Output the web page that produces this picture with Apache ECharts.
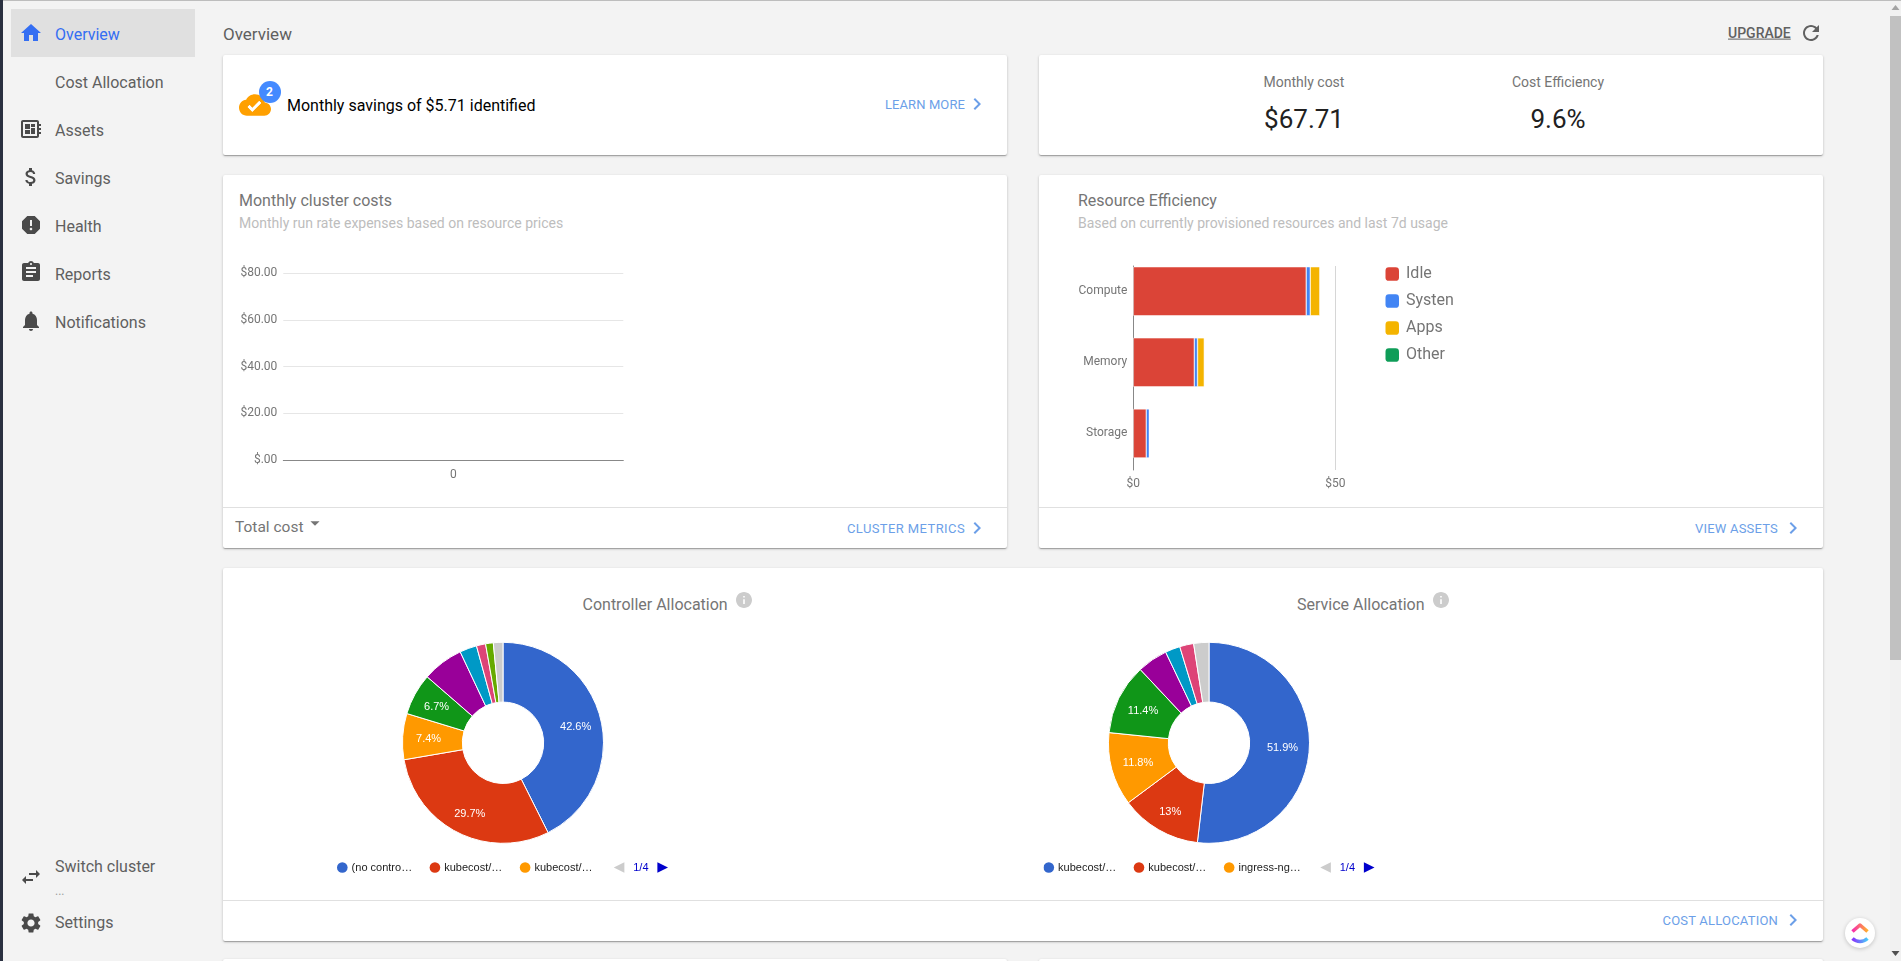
<!DOCTYPE html>
<html><head><meta charset="utf-8"><title>Overview</title>
<script src="https://cdn.jsdelivr.net/npm/echarts@6/dist/echarts.min.js"></script>
<style>
html,body{margin:0;padding:0;width:1901px;height:961px;overflow:hidden;background:#f3f3f3;font-family:Roboto,sans-serif}
#page{position:absolute;left:0;top:0;width:1901px;height:961px;overflow:hidden}
.card{position:absolute;background:#fff;border-radius:2px;box-shadow:0 1px 3px rgba(0,0,0,.2),0 1px 1px rgba(0,0,0,.14),0 2px 1px -1px rgba(0,0,0,.12)}
.t{position:absolute;white-space:nowrap;transform:translateY(calc(-50% + 1px));line-height:1.2}
.c{transform:translate(-50%,calc(-50% + 1px))}
.r{transform:translate(-100%,calc(-50% + 1px))}
.nav{font-size:16px;color:#5f5f5f;left:55px}
.ico{position:absolute;width:24px;height:24px;fill:#4a4a4a}
.ttl{font-size:16px;color:#757575}
.sub{font-size:14px;color:#bdbdbd}
.lnk{font-size:13px;color:#6c9fe8;letter-spacing:.2px}
.div{position:absolute;height:1px;background:#e0e0e0}
.chev{fill:#6c9fe8}
#chart{position:absolute;left:0;top:0;width:1901px;height:961px}
</style></head><body>
<div id="page">
<div style="position:absolute;left:0;top:0;width:1901px;height:1px;background:#bdbdbd;z-index:5"></div>
<div style="position:absolute;left:0;top:0;width:3px;height:961px;background:#2a3040;z-index:5"></div>
<div style="position:absolute;left:11px;top:9px;width:184px;height:48px;background:#e0e0e0"></div>

<svg class="ico" style="left:19px;top:21px;fill:#346ef2" viewBox="0 0 24 24"><path d="M10 20v-6h4v6h5v-8h3L12 3 2 12h3v8z"/></svg>
<div class="t nav" style="top:34px;color:#346ef2">Overview</div>
<div class="t nav" style="top:82px">Cost Allocation</div>
<svg class="ico" style="left:19px;top:117px" viewBox="0 0 24 24"><path d="M22 9V7h-2V5c0-1.1-.9-2-2-2H4c-1.100 0-2 .9-2 2v14c0 1.100.9 2 2 2h14c1.100 0 2-.9 2-2v-2h2v-2h-2v-2h2v-2h-2V9h2zm-4 10H4V5h14v14zM6 13h5v4H6zm6-6h4v3h-4zM6 7h5v5H6zm6 4h4v6h-4z"/></svg>
<div class="t nav" style="top:130px">Assets</div>
<svg class="ico" style="left:19px;top:165px" viewBox="0 0 24 24"><path d="M11.8 10.9c-2.27-.59-3-1.200-3-2.150 0-1.090 1.010-1.850 2.700-1.850 1.780 0 2.440.85 2.500 2.100h2.210c-.07-1.720-1.120-3.300-3.210-3.810V3h-3v2.160c-1.940.42-3.500 1.680-3.500 3.610 0 2.310 1.910 3.460 4.700 4.130 2.500.6 3 1.480 3 2.410 0 .69-.49 1.790-2.700 1.790-2.060 0-2.870-.92-2.980-2.100h-2.200c.12 2.190 1.760 3.420 3.680 3.830V21h3v-2.150c1.950-.37 3.500-1.500 3.500-3.550 0-2.840-2.430-3.810-4.700-4.400z"/></svg>
<div class="t nav" style="top:178px">Savings</div>
<svg class="ico" style="left:19px;top:213px" viewBox="0 0 24 24"><path d="M15.730 3H8.270L3 8.270v7.460L8.270 21h7.460L21 15.730V8.270L15.730 3zM12 17.300c-.72 0-1.300-.58-1.300-1.300 0-.72.58-1.300 1.300-1.300.72 0 1.300.58 1.300 1.300 0 .72-.58 1.300-1.300 1.300zm1-4.300h-2V7h2v6z"/></svg>
<div class="t nav" style="top:226px">Health</div>
<svg class="ico" style="left:19px;top:260px" viewBox="0 0 24 24"><path d="M19 3h-4.180C14.400 1.840 13.300 1 12 1c-1.300 0-2.400.84-2.820 2H5c-1.100 0-2 .9-2 2v14c0 1.100.9 2 2 2h14c1.100 0 2-.9 2-2V5c0-1.100-.9-2-2-2zm-7 0c.55 0 1 .45 1 1s-.45 1-1 1-1-.45-1-1 .45-1 1-1zm2 14H7v-2h7v2zm3-4H7v-2h10v2zm0-4H7V7h10v2z"/></svg>
<div class="t nav" style="top:274px">Reports</div>
<svg class="ico" style="left:19px;top:309px" viewBox="0 0 24 24"><path d="M12 22c1.100 0 2-.9 2-2h-4c0 1.100.89 2 2 2zm6-6v-5c0-3.070-1.640-5.640-4.500-6.320V4c0-.83-.67-1.500-1.500-1.500s-1.500.67-1.500 1.500v.68C7.630 5.360 6 7.920 6 11v5l-2 2v1h16v-1l-2-2z"/></svg>
<div class="t nav" style="top:322px">Notifications</div>
<div class="t nav" style="top:866px">Switch cluster</div>
<div class="t" style="left:55px;top:890px;font-size:12px;color:#9e9e9e">...</div>
<svg class="ico" style="left:19px;top:865px" viewBox="0 0 24 24"><path d="M6.990 11L3 15l3.990 4v-3H14v-2H6.990v-3zM21 9l-3.990-4v3H10v2h7.010v3L21 9z"/></svg>
<div class="t nav" style="top:922px">Settings</div>
<svg class="ico" style="left:19px;top:911px" viewBox="0 0 24 24"><path d="M19.140 12.940c.04-.3.06-.61.06-.94 0-.32-.02-.64-.07-.94l2.030-1.580c.18-.14.23-.41.12-.61l-1.920-3.320c-.12-.22-.37-.29-.59-.22l-2.390.96c-.5-.38-1.030-.7-1.620-.94l-.36-2.540c-.04-.24-.24-.41-.48-.41h-3.840c-.24 0-.43.17-.47.41l-.36 2.540c-.59.24-1.130.57-1.620.94l-2.390-.96c-.22-.08-.47 0-.59.22L2.740 8.870c-.12.21-.08.47.12.61l2.030 1.580c-.05.3-.09.63-.09.94s.02.64.07.94l-2.030 1.580c-.18.14-.23.41-.12.61l1.920 3.320c.12.22.37.29.59.22l2.390-.96c.5.38 1.030.7 1.620.94l.36 2.540c.05.24.24.41.48.41h3.840c.24 0 .44-.17.47-.41l.36-2.540c.59-.24 1.130-.56 1.620-.94l2.390.96c.22.08.47 0 .59-.22l1.920-3.320c.12-.22.07-.47-.12-.61l-2.010-1.580zM12 15.600c-1.980 0-3.600-1.620-3.600-3.600s1.620-3.600 3.600-3.600 3.600 1.620 3.600 3.600-1.620 3.600-3.600 3.600z"/></svg>

<div class="t" style="left:223px;top:33px;font-size:17px;color:#5f5f5f">Overview</div>
<div class="t" style="left:1728px;top:31.500px;font-size:14px;font-weight:500;color:#616161;text-decoration:underline">UPGRADE</div>
<svg class="ico" style="left:1799px;top:21px;fill:#616161" viewBox="0 0 24 24"><path d="M17.650 6.350C16.200 4.900 14.210 4 12 4c-4.420 0-7.990 3.580-7.990 8s3.570 8 7.990 8c3.730 0 6.840-2.550 7.730-6h-2.080c-.82 2.330-3.040 4-5.650 4-3.310 0-6-2.690-6-6s2.690-6 6-6c1.660 0 3.140.69 4.220 1.780L13 11h7V4l-2.350 2.350z"/></svg>

<div class="card" style="left:223px;top:55px;width:784px;height:100px"></div>
<svg style="position:absolute;left:239px;top:89px;width:32px;height:32px;fill:#ffa000" viewBox="0 0 24 24"><path d="M19.350 10.040C18.670 6.590 15.640 4 12 4 9.110 4 6.600 5.640 5.350 8.040 2.340 8.360 0 10.910 0 14c0 3.310 2.690 6 6 6h13c2.760 0 5-2.240 5-5 0-2.640-2.050-4.780-4.650-4.960zM10 17l-3.500-3.500 1.410-1.410L10 14.170 15.180 9l1.410 1.410L10 17z"/><path fill="#fff" d="M10 17l-3.500-3.500 1.410-1.410L10 14.170 15.180 9l1.410 1.410L10 17z"/></svg>
<div style="position:absolute;left:258.500px;top:81px;width:22px;height:22px;border-radius:50%;background:#448aff;color:#fff;font-size:12px;font-weight:700;line-height:22px;text-align:center">2</div>
<div class="t" style="left:287px;top:105px;font-size:16px;color:#000">Monthly savings of $5.71 identified</div>
<div class="t lnk r" style="left:965px;top:104px;letter-spacing:.1px">LEARN MORE</div>
<svg class="chev" style="position:absolute;left:965px;top:92px;width:24px;height:24px" viewBox="0 0 24 24"><path d="M10 6L8.590 7.410 13.170 12l-4.580 4.590L10 18l6-6z"/></svg>

<div class="card" style="left:1039px;top:55px;width:784px;height:100px"></div>
<div class="t c" style="left:1304px;top:81px;font-size:14px;color:#757575">Monthly cost</div>
<div class="t c" style="left:1304px;top:118.500px;font-size:26px;color:#212121">$67.71</div>
<div class="t c" style="left:1558px;top:81px;font-size:14px;color:#757575">Cost Efficiency</div>
<div class="t c" style="left:1558px;top:118.500px;font-size:26px;color:#212121">9.6%</div>

<div class="card" style="left:223px;top:175px;width:784px;height:373px"></div>
<div class="t ttl" style="left:239px;top:200px">Monthly cluster costs</div>
<div class="t sub" style="left:239px;top:222px">Monthly run rate expenses based on resource prices</div>
<div class="div" style="left:223px;top:507px;width:784px"></div>
<div class="t" style="left:235px;top:526px;font-size:15.500px;color:#757575">Total cost</div>
<svg style="position:absolute;left:303.500px;top:512px;width:22px;height:22px;fill:#757575" viewBox="0 0 24 24"><path d="M7 10l5 5 5-5z"/></svg>
<div class="t lnk r" style="left:965px;top:527.500px;letter-spacing:.4px">CLUSTER METRICS</div>
<svg class="chev" style="position:absolute;left:965px;top:515.500px;width:24px;height:24px" viewBox="0 0 24 24"><path d="M10 6L8.590 7.410 13.170 12l-4.580 4.590L10 18l6-6z"/></svg>

<div class="card" style="left:1039px;top:175px;width:784px;height:373px"></div>
<div class="t ttl" style="left:1078px;top:200px">Resource Efficiency</div>
<div class="t sub" style="left:1078px;top:222px">Based on currently provisioned resources and last 7d usage</div>
<div class="div" style="left:1039px;top:507px;width:784px"></div>
<div class="t lnk r" style="left:1778px;top:527.500px">VIEW ASSETS</div>
<svg class="chev" style="position:absolute;left:1781px;top:515.500px;width:24px;height:24px" viewBox="0 0 24 24"><path d="M10 6L8.590 7.410 13.170 12l-4.580 4.590L10 18l6-6z"/></svg>

<div class="card" style="left:223px;top:568px;width:1600px;height:373px"></div>
<div class="t ttl" style="left:582.500px;top:604px">Controller Allocation</div>
<svg style="position:absolute;left:735.500px;top:592px;width:16px;height:16px;fill:#ccc" viewBox="2 2 20 20"><path d="M12 2C6.480 2 2 6.480 2 12s4.480 10 10 10 10-4.480 10-10S17.520 2 12 2zm1 15h-2v-6h2v6zm0-8h-2V7h2v2z"/></svg>
<div class="t ttl" style="left:1297px;top:604px">Service Allocation</div>
<svg style="position:absolute;left:1433px;top:592px;width:16px;height:16px;fill:#ccc" viewBox="2 2 20 20"><path d="M12 2C6.480 2 2 6.480 2 12s4.480 10 10 10 10-4.480 10-10S17.520 2 12 2zm1 15h-2v-6h2v6zm0-8h-2V7h2v2z"/></svg>
<div class="div" style="left:223px;top:900px;width:1600px"></div>
<div class="t lnk r" style="left:1778px;top:920px">COST ALLOCATION</div>
<svg class="chev" style="position:absolute;left:1781px;top:908px;width:24px;height:24px" viewBox="0 0 24 24"><path d="M10 6L8.590 7.410 13.170 12l-4.580 4.590L10 18l6-6z"/></svg>

<div class="card" style="left:223px;top:959px;width:784px;height:60px"></div>
<div class="card" style="left:1039px;top:959px;width:784px;height:60px"></div>

<div id="chart"></div>

<div style="position:absolute;left:1890px;top:0;width:11px;height:961px;background:#f1f1f1"></div>
<div style="position:absolute;left:1890px;top:16px;width:11px;height:644px;background:#c1c1c1"></div>
<svg style="position:absolute;left:1890px;top:4px;width:11px;height:8px;fill:#a3a3a3" viewBox="0 0 11 8"><path d="M5.500 1L9.500 6H1.500z"/></svg>
<svg style="position:absolute;left:1890px;top:949px;width:11px;height:8px;fill:#505050" viewBox="0 0 11 8"><path d="M5.500 7L9.500 2H1.500z"/></svg>

<div style="position:absolute;left:1845px;top:917.500px;width:30px;height:30px;border-radius:50%;background:#fff;box-shadow:0 1px 4px rgba(0,0,0,.2)"></div>
<svg style="position:absolute;left:1845px;top:917.500px;width:30px;height:30px" viewBox="0 0 30 30">
<defs>
<linearGradient id="gu" x1="0" y1="0" x2="1" y2="0"><stop offset="0" stop-color="#f72bb0"/><stop offset="1" stop-color="#ffb02e"/></linearGradient>
<linearGradient id="gl" x1="0" y1="0" x2="1" y2="0"><stop offset="0" stop-color="#8930fd"/><stop offset="1" stop-color="#49ccf9"/></linearGradient>
</defs>
<path d="M7.500 13.500L15 7L22.500 13.500" fill="none" stroke="url(#gu)" stroke-width="3.600" stroke-linejoin="round"/>
<path d="M7.500 20.500C12 24.500 18 24.500 22.500 20.500" fill="none" stroke="url(#gl)" stroke-width="3.600"/>
</svg>
</div>

<script>
// Monthly cluster costs
const costCategories = ['0'];
const costValues = [0];
const costTickLabels = ['$.00', '$20.00', '$40.00', '$60.00', '$80.00'];

// Resource Efficiency
const resourceCategories = ['Compute', 'Memory', 'Storage'];
const idleValues = [42.8, 15.1, 3.2];
const systemValues = [1.0, 0.8, 0.8];
const appsValues = [2.4, 1.7, 0];
const otherValues = [0.1, 0, 0];
const resourceTickLabels = ['$0', '$50'];

// Pies
const sliceColors = ['#3366cc', '#dc3912', '#ff9900', '#109618', '#990099', '#0099c6', '#dd4477', '#66aa00', '#cccccc'];
const controllerValues = [42.6, 29.7, 7.4, 6.7, 6.6, 2.75, 1.47, 1.24, 1.54];
const controllerLegend = ['(no contro…', 'kubecost/…', 'kubecost/…', 'kubecost/…', 'kubecost/…', 'kubecost/…', 'kubecost/…', 'kubecost/…', 'Other'];
const serviceValues = [51.9, 13, 11.8, 11.4, 4.9, 2.4, 2.25, 2.45];
const serviceColors = ['#3366cc', '#dc3912', '#ff9900', '#109618', '#990099', '#0099c6', '#dd4477', '#cccccc'];
const serviceLegend = ['kubecost/…', 'kubecost/…', 'ingress-ng…', 'kubecost/…', 'kubecost/…', 'kubecost/…', 'kubecost/…', 'Other'];

const LABELLED = 4;
const controllerKeys = controllerValues.map((_, i) => 'c' + i);
const serviceKeys = serviceValues.map((_, i) => 's' + i);
const controllerNudge = [[1, 1], [0, 5], [-1, 1], [-2, 0]];
const serviceNudge = [[0, 1], [-2, 5], [0, 1], [0, 1]];

function sliceData(values, keys, colors, nudge) {
  return values.map((v, i) => ({
    name: keys[i], value: v,
    itemStyle: { color: colors[i] },
    label: { show: i < LABELLED, offset: nudge[i] || [0, 0] }
  }));
}
function pieSeries(name, center, values, keys, colors, nudge) {
  return {
    type: 'pie', name, center, radius: [40.7, 100.5], startAngle: 90, clockwise: true,
    avoidLabelOverlap: false, silent: true,
    itemStyle: { borderColor: '#fff', borderWidth: 1 },
    label: { position: 'inside', formatter: '{c}%', color: '#fff', fontFamily: '"Liberation Sans"', fontSize: 11 },
    labelLine: { show: false },
    data: sliceData(values, keys, colors, nudge)
  };
}
function pieLegend(left, width, keys, labels) {
  return {
    type: 'scroll', orient: 'horizontal', left, top: 862, width, padding: 0,
    data: keys, icon: 'circle', itemWidth: 10.600, itemHeight: 10.600, itemGap: 17.500,
    itemStyle: { borderWidth: 0 },
    selectedMode: false,
    formatter: n => labels[keys.indexOf(n)],
    textStyle: { fontFamily: '"Liberation Sans"', fontSize: 11, color: '#222222', padding: [0, 0, 0, -1] },
    pageIcons: { horizontal: ['M0,5L10,0L10,10z', 'M0,0L10,5L0,10z'] },
    pageIconColor: '#0000cc', pageIconInactiveColor: '#cccccc', pageIconSize: 10.600,
    pageButtonItemGap: 4, pageButtonGap: 10, pageButtonPosition: 'end',
    pageFormatter: '{current}/{total}',
    pageTextStyle: { color: '#0000cc', fontFamily: '"Liberation Sans"', fontSize: 11 }
  };
}
function stack(name, color, data) {
  return { type: 'bar', name, stack: 'r', xAxisIndex: 1, yAxisIndex: 1, barWidth: 49, data, silent: true,
    itemStyle: { color, borderColor: '#fff', borderWidth: 0.5 } };
}
const axisFont = { fontFamily: 'Roboto', fontSize: 12, color: '#757575' };

const chart = echarts.init(document.getElementById('chart'), null, { width: 1901, height: 961 });
chart.setOption({
  animation: false,
  backgroundColor: 'transparent',
  grid: [
    { left: 283.3, top: 273.3, width: 340, height: 186.7 },
    { left: 1133.3, top: 255.7, width: 202, height: 213.3 },
    { left: 1133.3, top: 266, width: 202, height: 204 }
  ],
  xAxis: [
    { gridIndex: 0, type: 'category', data: costCategories,
      axisLine: { lineStyle: { color: '#888888' } }, axisTick: { show: false },
      axisLabel: { ...axisFont, margin: 9 } },
    { gridIndex: 1, type: 'value', min: 0, max: 50, interval: 50, show: false },
    { gridIndex: 2, type: 'value', min: 0, max: 50, interval: 50,
      axisLine: { show: false }, axisTick: { show: false },
      splitLine: { show: true, lineStyle: { color: '#d6d6d6' } },
      axisLabel: { ...axisFont, margin: 8, formatter: v => resourceTickLabels[v / 50] } }
  ],
  yAxis: [
    { gridIndex: 0, type: 'value', min: 0, max: 80, interval: 20,
      axisLine: { show: false }, axisTick: { show: false },
      splitLine: { lineStyle: { color: '#e6e6e6' } },
      axisLabel: { ...axisFont, margin: 6, padding: [2, 0, 0, 0], formatter: v => costTickLabels[v / 20] } },
    { gridIndex: 1, type: 'category', inverse: true, data: resourceCategories,
      axisLine: { show: false }, axisTick: { show: false },
      axisLabel: { ...axisFont, margin: 6, padding: [2, 0, 0, 0] } },
    { gridIndex: 2, type: 'category', data: [''],
      axisLine: { show: true, onZero: false, lineStyle: { color: '#888888' } },
      axisTick: { show: false }, axisLabel: { show: false } }
  ],
  legend: [
    { orient: 'vertical', left: 1385.5, top: 266, padding: 0, itemWidth: 13.500, itemHeight: 13.500, itemGap: 11,
      icon: 'roundRect', selectedMode: false, itemStyle: { borderWidth: 0 },
      data: ['Idle', 'Systen', 'Apps', 'Other'],
      textStyle: { fontFamily: 'Roboto', fontSize: 16, color: '#757575', padding: [7, 0, 0, 2] } },
    pieLegend(337, 331, controllerKeys, controllerLegend),
    pieLegend(1043.5, 331, serviceKeys, serviceLegend)
  ],
  series: [
    { type: 'line', name: 'Total cost', xAxisIndex: 0, yAxisIndex: 0, data: costValues, showSymbol: false, silent: true, lineStyle: { color: '#3366cc' } },
    stack('Idle', '#db4437', idleValues),
    stack('Systen', '#4285f4', systemValues),
    stack('Apps', '#f4b400', appsValues),
    stack('Other', '#0f9d58', otherValues),
    pieSeries('Controller Allocation', [503, 742.8], controllerValues, controllerKeys, sliceColors, controllerNudge),
    pieSeries('Service Allocation', [1209, 742.8], serviceValues, serviceKeys, serviceColors, serviceNudge)
  ]
});
</script>
</body></html>
